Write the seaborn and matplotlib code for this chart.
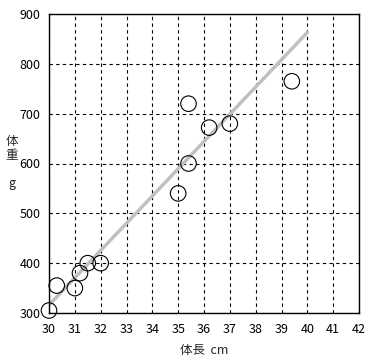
import numpy as np
import pandas as pd
import matplotlib
matplotlib.use("Agg")
import matplotlib.pyplot as plt
import seaborn as sns

# data
length_cm = [30.0, 30.3, 31.0, 31.2, 31.5, 32.0, 35.0, 35.4, 35.4, 36.2, 37.0, 39.4]
weight_g = [305, 355, 350, 380, 400, 400, 540, 600, 720, 672, 680, 765]

# trend line (drawn from 30 to 40 cm)
trend_x = [30, 40]
trend_y = [316, 863]

x_ticks = list(range(30, 43))
y_ticks = list(range(300, 1000, 100))

df = pd.DataFrame({"length": length_cm, "weight": weight_g})
trend = pd.DataFrame({"length": trend_x, "weight": trend_y})

sns.set_style("white")
plt.rcParams["font.family"] = ["Noto Sans CJK JP", "DejaVu Sans"]

fig = plt.figure(figsize=(3.72, 3.63), dpi=100)
ax = fig.add_axes([49 / 372, 50 / 363, 310 / 372, 299 / 363])

sns.lineplot(data=trend, x="length", y="weight", ax=ax, color="#c0c0c0",
             linewidth=2.5, zorder=2)
sns.scatterplot(data=df, x="length", y="weight", ax=ax, s=125,
                facecolor="none", edgecolor="black", linewidth=0.8, zorder=3,
                clip_on=False)

ax.set_xlim(30, 42)
ax.set_ylim(300, 900)
ax.set_xticks(x_ticks)
ax.set_yticks(y_ticks)
ax.grid(True, color="black", linestyle=(0, (3, 3)), linewidth=0.8)
ax.set_axisbelow(True)
for sp in ax.spines.values():
    sp.set_color("black")
    sp.set_linewidth(1.0)
ax.tick_params(length=0, labelsize=9, colors="black")
ax.tick_params(axis="x", pad=7)
ax.tick_params(axis="y", pad=6)

ax.set_xlabel("体長  cm", fontsize=9, labelpad=6)
ax.set_ylabel("")
fig.text(12 / 372, 1 - 163 / 363, "体\n重\n\ng", fontsize=9, ha="center",
         va="center", linespacing=1.1)

fig.savefig("out.png", dpi=100)
